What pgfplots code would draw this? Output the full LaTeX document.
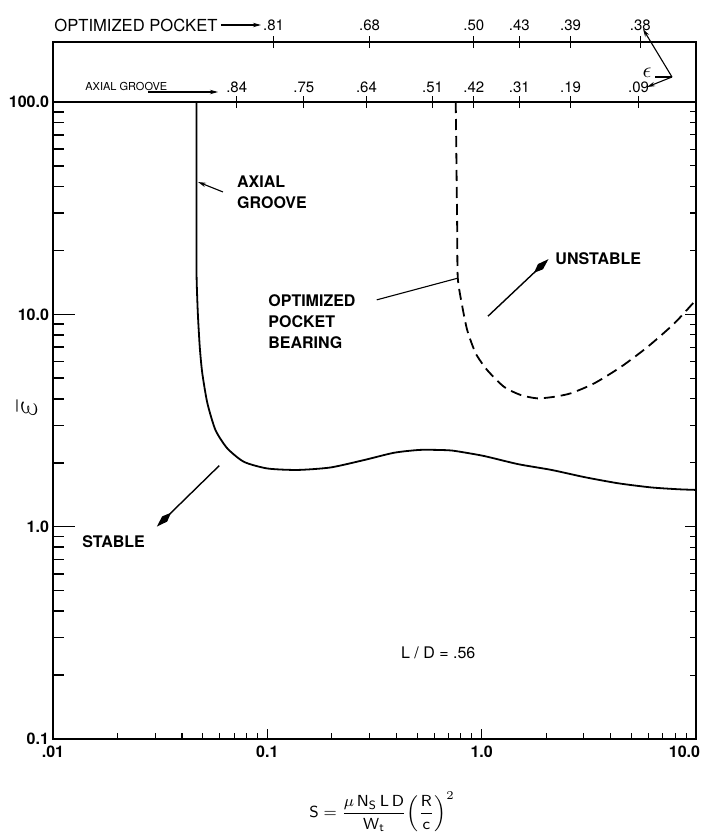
\documentclass[border=0pt]{standalone}
\usepackage{pgfplots}
\pgfplotsset{compat=1.18}
\usepackage{fontspec}
\setmainfont{TeX Gyre Heros}
\usetikzlibrary{arrows.meta}
\newcommand\axtick[2]{\draw[tl] ([yshift=-3pt]axis cs:#1,100) -- ([yshift=3pt]axis cs:#1,100); \node[ecc] at ([yshift=7.5pt]axis cs:#1,100) {#2};}
\newcommand\pktick[2]{\draw[tl] ([yshift=27pt]axis cs:#1,100) -- ([yshift=33pt]axis cs:#1,100); \node[ecc] at ([yshift=38.5pt]axis cs:#1,100) {#2};}
\begin{document}
\begin{tikzpicture}[
  lw/.style={line width=0.8pt},
  tl/.style={line width=0.55pt},
  kite/.style={line width=0.7pt,-{Kite[length=10pt,width=3.6pt,inset=4.5pt]}},
  lab/.style={font=\bfseries\fontsize{8}{10.5}\selectfont, inner sep=0pt},
  ecc/.style={font=\fontsize{7.5}{9}\selectfont, inner sep=0pt},
]
\begin{loglogaxis}[
  scale only axis,
  width=321.5pt, height=318.5pt,
  xmin=0.01, xmax=10, ymin=0.1, ymax=100,
  clip=false,
  axis line style={line width=0.8pt},
  major tick length=0pt, minor tick length=0pt,
  xtick={0.01,0.1,1,10},
  xticklabels={.01,0.1,1.0,{\kern4pt\makebox[0pt][r]{10.0}}},
  ytick={0.1,1,10,100},
  yticklabels={0.1,1.0,10.0,100.0},
  tick label style={font=\bfseries\fontsize{8}{10}\selectfont},
  yticklabel style={xshift=1.5pt},
]
\coordinate (SW) at (rel axis cs:0,0);
\coordinate (NE) at (rel axis cs:1,1);

% manual ticks
\pgfplotsinvokeforeach{0.2,0.3,0.4,0.5,0.6,0.7,0.8,0.9,2,3,4,5,6,7,8,9,20,30,40,50,60,70,80,90}{
  \draw[lw] (axis cs:0.01,#1) -- ([xshift=5.5pt]axis cs:0.01,#1);
  \draw[tl] (axis cs:10,#1) -- ([xshift=-3pt]axis cs:10,#1);
}
\pgfplotsinvokeforeach{1,10}{
  \draw[lw] (axis cs:0.01,#1) -- ([xshift=11pt]axis cs:0.01,#1);
  \draw[tl] (axis cs:10,#1) -- ([xshift=-5.5pt]axis cs:10,#1);
}
\pgfplotsinvokeforeach{0.02,0.03,0.04,0.05,0.06,0.07,0.08,0.09,0.2,0.3,0.4,0.5,0.6,0.7,0.8,0.9,2,3,4,5,6,7,8,9}{
  \draw[tl] (axis cs:#1,0.1) -- ([yshift=3pt]axis cs:#1,0.1);
}
\pgfplotsinvokeforeach{0.1,1}{
  \draw[tl] (axis cs:#1,0.1) -- ([yshift=5pt]axis cs:#1,0.1);
}

% upper eccentricity band
\draw[lw] (rel axis cs:0,1) -- ([yshift=30pt]rel axis cs:0,1) -- ([yshift=30pt]rel axis cs:1,1) -- (rel axis cs:1,1);
\axtick{0.072}{.84}
\axtick{0.148}{.75}
\axtick{0.29}{.64}
\axtick{0.59}{.51}
\axtick{0.92}{.42}
\axtick{1.5}{.31}
\axtick{2.6}{.19}
\axtick{5.4}{.09}
\pktick{0.107}{.81}
\pktick{0.30}{.68}
\pktick{0.92}{.50}
\pktick{1.5}{.43}
\pktick{2.6}{.39}
\pktick{5.5}{.38}
\node[font=\fontsize{8.3}{10}\selectfont, anchor=west, inner sep=0pt] at ([xshift=0.5pt,yshift=38.5pt]rel axis cs:0,1) {OPTIMIZED POCKET};
\draw[tl,-{Stealth[length=4pt,width=2.2pt]}] ([xshift=84pt,yshift=38.5pt]rel axis cs:0,1) -- ([xshift=104pt,yshift=38.5pt]rel axis cs:0,1);
\node[font=\fontsize{5.5}{6}\selectfont, anchor=west, inner sep=0pt] at ([xshift=16pt,yshift=8pt]rel axis cs:0,1) {AXIAL GROOVE};
\draw[tl,-{Stealth[length=4pt,width=2.2pt]}] ([xshift=47.5pt,yshift=5pt]rel axis cs:0,1) -- ([xshift=82.5pt,yshift=5pt]rel axis cs:0,1);
\node[font=\fontsize{11}{11}\selectfont, inner sep=0pt] at ([xshift=297pt,yshift=14.5pt]rel axis cs:0,1) {$\epsilon$};
\draw[tl] ([xshift=301pt,yshift=12.5pt]rel axis cs:0,1) -- ([xshift=309.5pt,yshift=12.5pt]rel axis cs:0,1);
\draw[tl,-{Stealth[length=4pt,width=2.2pt]}] ([xshift=309.5pt,yshift=12.5pt]rel axis cs:0,1) -- ([xshift=295pt,yshift=36.5pt]rel axis cs:0,1);
\draw[tl,-{Stealth[length=4pt,width=2.2pt]}] ([xshift=309.5pt,yshift=12.5pt]rel axis cs:0,1) -- ([xshift=297pt,yshift=7.5pt]rel axis cs:0,1);

% axial groove (solid)
\addplot[line width=0.9pt, smooth, tension=0.4] coordinates {
(0.0467,100) (0.0467,40) (0.0467,20) (0.0468,14.5) (0.0474,10.1) (0.0484,7.0) (0.0497,5.3)
(0.0525,3.82) (0.0573,2.85) (0.065,2.34) (0.0778,2.02) (0.100,1.88) (0.138,1.85)
(0.197,1.90) (0.283,2.06) (0.391,2.23) (0.52,2.30) (0.70,2.29) (0.80,2.25)
(1.03,2.15) (1.48,1.97) (2.12,1.85) (3.03,1.71) (4.35,1.60) (6.2,1.53) (8.3,1.50) (10,1.49)
};
% optimized pocket bearing (dashed)
\addplot[line width=0.9pt, smooth, tension=0.4, dash pattern=on 5.5pt off 3pt] coordinates {
(0.757,100) (0.765,40) (0.769,24.9) (0.774,14.8) (0.812,10.9) (0.857,8.4) (0.938,6.55)
(1.06,5.47) (1.27,4.56) (1.52,4.17) (1.82,4.02) (2.18,4.09) (2.61,4.25) (3.35,4.73)
(4.47,5.66) (5.95,7.03) (7.92,9.06) (10,11.7)
};

% annotations
\node[lab, anchor=west, align=left] at (axis cs:0.072,37.7) {AXIAL\\GROOVE};
\draw[tl,-{Stealth[length=4pt,width=2.2pt]}] (axis cs:0.0621,37.7) -- (axis cs:0.0475,42);
\node[lab, anchor=west, align=left] at (axis cs:0.1007,9.2) {OPTIMIZED\\POCKET\\BEARING};
\draw[tl] (axis cs:0.324,11.7) -- (axis cs:0.773,14.8);
\draw[tl] ([yshift=-2pt]axis cs:0.773,14.8) -- ([yshift=2pt]axis cs:0.773,14.8);
\node[lab, anchor=west] at (axis cs:2.20,18.2) {UNSTABLE};
\draw[kite] (axis cs:1.07,9.8) -- (axis cs:2.05,18.2);
\node[lab, anchor=west] at (axis cs:0.01364,0.846) {STABLE};
\draw[kite] (axis cs:0.0597,1.94) -- (axis cs:0.0305,1.0);
\node[font=\fontsize{8}{10}\selectfont] at (axis cs:0.627,0.254) {L / D = .56};

% axis labels
\node[rotate=90, inner sep=0pt] at ([xshift=-13pt]axis cs:0.01,3.58) {\scalebox{1.7}{$\bar{\varepsilon}$}};
\node[font=\fontsize{8}{10}\selectfont] at ([xshift=164.5pt,yshift=-36.5pt]rel axis cs:0,0)
 {$\displaystyle \mathsf{S}=\frac{\mu\,\mathsf{N}_{\mathsf{S}}\,\mathsf{L\,D}}{\mathsf{W}_{\mathsf{t}}}\Bigl(\frac{\mathsf{R}}{\mathsf{c}}\Bigr)^{2}$};
\end{loglogaxis}
\pgfresetboundingbox
\path[use as bounding box] ([shift={(-26.5pt,-47.5pt)}]SW) rectangle ([shift={(3.5pt,51pt)}]NE);
\end{tikzpicture}
\end{document}
